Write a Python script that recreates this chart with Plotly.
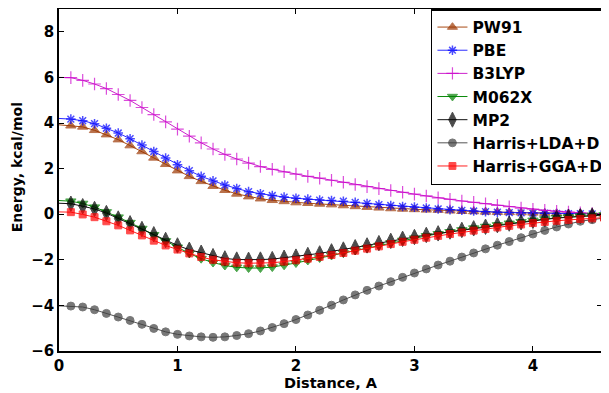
import plotly.graph_objects as go

distance = [0.0, 0.1, 0.2, 0.3, 0.4, 0.5, 0.6, 0.7, 0.8, 0.9, 1.0, 1.1, 1.2, 1.3, 1.4, 1.5,
            1.6, 1.7, 1.8, 1.9, 2.0, 2.1, 2.2, 2.3, 2.4, 2.5, 2.6, 2.7, 2.8, 2.9, 3.0, 3.1,
            3.2, 3.3, 3.4, 3.5, 3.6, 3.7, 3.8, 3.9, 4.0, 4.1, 4.2, 4.3, 4.4, 4.5, 4.6]

pw91 = [3.92, 3.88, 3.83, 3.68, 3.49, 3.27, 3.01, 2.75, 2.47, 2.19, 1.91, 1.66, 1.44, 1.23, 1.05, 0.89,
        0.77, 0.68, 0.61, 0.56, 0.51, 0.48, 0.45, 0.42, 0.38, 0.34, 0.31, 0.28, 0.25, 0.23, 0.21, 0.19,
        0.18, 0.15, 0.13, 0.12, 0.10, 0.09, 0.08, 0.07, 0.06, 0.05, 0.04, 0.03, 0.03, 0.02, 0.01]
pbe = [4.20, 4.17, 4.10, 3.97, 3.77, 3.56, 3.31, 3.03, 2.75, 2.46, 2.17, 1.91, 1.66, 1.46, 1.28, 1.13,
       0.99, 0.90, 0.82, 0.75, 0.70, 0.66, 0.62, 0.60, 0.57, 0.52, 0.47, 0.42, 0.38, 0.34, 0.31, 0.27,
       0.23, 0.20, 0.17, 0.14, 0.11, 0.09, 0.07, 0.06, 0.05, 0.04, 0.03, 0.02, 0.02, 0.01, 0.01]
b3lyp = [6.00, 5.99, 5.87, 5.71, 5.51, 5.25, 4.99, 4.68, 4.37, 4.05, 3.73, 3.42, 3.13, 2.86, 2.62, 2.42,
         2.24, 2.09, 1.97, 1.86, 1.76, 1.66, 1.58, 1.49, 1.40, 1.30, 1.21, 1.12, 1.04, 0.96, 0.88, 0.80,
         0.72, 0.65, 0.58, 0.52, 0.46, 0.39, 0.33, 0.27, 0.22, 0.17, 0.13, 0.09, 0.06, 0.03, 0.01]
m062x = [0.60, 0.57, 0.47, 0.31, 0.10, -0.13, -0.37, -0.63, -0.90, -1.17, -1.45, -1.72, -1.95, -2.12, -2.25, -2.33,
         -2.36, -2.36, -2.32, -2.24, -2.14, -2.03, -1.92, -1.81, -1.70, -1.59, -1.48, -1.37, -1.26, -1.15, -1.05, -0.95,
         -0.86, -0.77, -0.69, -0.61, -0.54, -0.47, -0.40, -0.33, -0.27, -0.21, -0.16, -0.12, -0.08, -0.05, -0.03]
mp2 = [0.48, 0.46, 0.35, 0.23, 0.05, -0.19, -0.40, -0.65, -0.88, -1.13, -1.37, -1.56, -1.69, -1.84, -1.94, -1.99,
       -2.00, -1.99, -1.97, -1.91, -1.86, -1.79, -1.72, -1.63, -1.55, -1.45, -1.37, -1.27, -1.17, -1.08, -1.00, -0.91,
       -0.84, -0.76, -0.69, -0.62, -0.55, -0.48, -0.41, -0.35, -0.29, -0.23, -0.17, -0.13, -0.09, -0.06, -0.03]
harris_lda = [-4.02, -4.03, -4.07, -4.19, -4.35, -4.51, -4.66, -4.83, -5.01, -5.16, -5.27, -5.34, -5.38, -5.40, -5.38, -5.32,
              -5.24, -5.12, -4.97, -4.80, -4.62, -4.42, -4.21, -3.99, -3.76, -3.54, -3.34, -3.15, -2.96, -2.77, -2.58, -2.40,
              -2.23, -2.06, -1.88, -1.70, -1.52, -1.36, -1.20, -1.03, -0.87, -0.71, -0.56, -0.43, -0.31, -0.24, -0.17]
harris_gga = [0.10, 0.09, -0.01, -0.13, -0.31, -0.49, -0.71, -0.93, -1.16, -1.37, -1.55, -1.72, -1.88, -2.00, -2.08, -2.13,
              -2.15, -2.15, -2.13, -2.08, -2.02, -1.95, -1.87, -1.79, -1.70, -1.60, -1.51, -1.41, -1.31, -1.21, -1.12, -1.03,
              -0.95, -0.87, -0.80, -0.72, -0.65, -0.58, -0.51, -0.45, -0.39, -0.34, -0.29, -0.25, -0.21, -0.18, -0.15]

series_names = ["PW91", "PBE", "B3LYP", "M062X", "MP2", "Harris+LDA+D", "Harris+GGA+D"]
series_values = [pw91, pbe, b3lyp, m062x, mp2, harris_lda, harris_gga]
y_title = "Energy, kcal/mol"
x_title = "Distance, A"

styles = [
    dict(line="#a84a14", mcolor="#9c3600", fill="#9c3600", symbol="triangle-up", size=9, lw=1),
    dict(line="#2b2bff", mcolor="#0000ff", fill="#0000ff", symbol="asterisk-open", size=8, lw=1.5),
    dict(line="#cc22cc", mcolor="#cc00cc", fill="#cc00cc", symbol="cross-thin-open", size=9, lw=1.2),
    dict(line="#0a8a0a", mcolor="#008000", fill="#008000", symbol="triangle-down", size=9, lw=1),
    dict(line="#111111", mcolor="#000000", fill="#000000", symbol="diamond-tall", size=11, lw=1),
    dict(line="#555555", mcolor="#404040", fill="#404040", symbol="circle", size=8, lw=1),
    dict(line="#ff2020", mcolor="#ff0000", fill="#ff0000", symbol="square", size=7, lw=1),
]

FONT = "DejaVu Sans, Verdana, sans-serif"

fig = go.Figure()
for name, vals, st in zip(series_names, series_values, styles):
    sizes = [0] + [st["size"]] * (len(distance) - 1)
    fig.add_trace(go.Scatter(
        x=distance, y=vals, name=name, mode="lines+markers",
        line=dict(color=st["line"], width=1),
        marker=dict(symbol=st["symbol"], size=sizes, color=st["fill"],
                    line=dict(color=st["mcolor"], width=st["lw"])),
    ))

axis_common = dict(
    showline=True, linecolor="black", linewidth=1.5, mirror="ticks",
    ticks="inside", ticklen=5, tickwidth=1, tickcolor="black",
    showgrid=False, zeroline=False, automargin=False,
    tickfont=dict(family=FONT, size=15, color="black", weight="bold"),
)

# the page body adds an 8 px offset; the figure is sized to fit the window
fig.update_layout(
    width=601, height=385,
    margin=dict(l=51, r=0, t=1, b=42),
    paper_bgcolor="white", plot_bgcolor="white",
    font=dict(family=FONT, color="black"),
    xaxis=dict(range=[0, 4.583], tickvals=[0, 1, 2, 3, 4],
               title=dict(text=x_title, standoff=3,
                          font=dict(family=FONT, size=14.5, color="black", weight="bold")),
               **axis_common),
    yaxis=dict(range=[-6, 9], tickvals=[-6, -4, -2, 0, 2, 4, 6, 8], **axis_common),
    legend=dict(x=0.685, y=1.0, xanchor="left", yanchor="top",
                bgcolor="white", bordercolor="black", borderwidth=1.5,
                font=dict(family=FONT, size=15.5, color="black", weight="bold"),
                itemsizing="trace"),
    showlegend=True,
    annotations=[dict(text=y_title, textangle=-90, xref="paper", yref="paper",
                      x=-0.077, y=0.538, xanchor="center", yanchor="middle", showarrow=False,
                      font=dict(family=FONT, size=14, color="black", weight="bold"))],
)

fig.write_html("out.html")
